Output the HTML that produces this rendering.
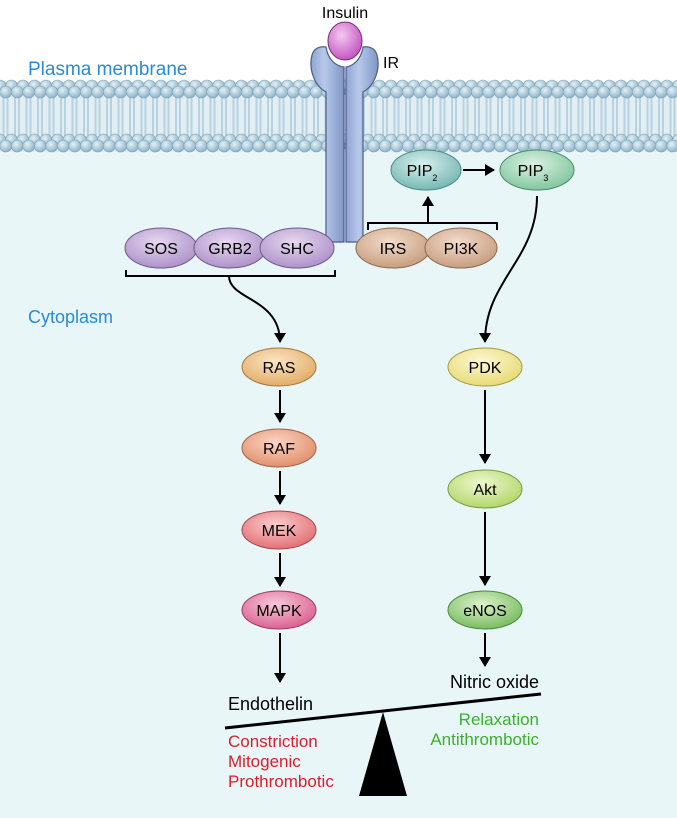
<!DOCTYPE html>
<html><head><meta charset="utf-8"><style>
html,body{margin:0;padding:0;background:#fff}
svg{display:block}
text{font-family:"Liberation Sans",Arial,sans-serif}
</style></head><body>
<svg width="677" height="818" viewBox="0 0 677 818" xmlns="http://www.w3.org/2000/svg">
<defs>
<radialGradient id="head" cx="0.4" cy="0.35" r="0.7"><stop offset="0" stop-color="#e4f1f7"/><stop offset="1" stop-color="#86aec4"/></radialGradient>
<pattern id="tails" x="0" y="0" width="11.5" height="10" patternUnits="userSpaceOnUse">
<rect x="2.5" y="0" width="2" height="10" fill="#b7d3e0"/><rect x="6.5" y="0" width="2" height="10" fill="#b7d3e0"/>
</pattern>
<radialGradient id="gPur" cx="0.45" cy="0.35" r="0.7"><stop offset="0" stop-color="#e6d8f0"/><stop offset="1" stop-color="#a98cc6"/></radialGradient>
<radialGradient id="gTan" cx="0.45" cy="0.35" r="0.7"><stop offset="0" stop-color="#f2dccb"/><stop offset="1" stop-color="#c4997a"/></radialGradient>
<radialGradient id="gTeal" cx="0.45" cy="0.35" r="0.7"><stop offset="0" stop-color="#d8f0ee"/><stop offset="1" stop-color="#6fb3ae"/></radialGradient>
<radialGradient id="gGrn" cx="0.45" cy="0.35" r="0.7"><stop offset="0" stop-color="#d9f2e2"/><stop offset="1" stop-color="#7cc39a"/></radialGradient>
<radialGradient id="gRas" cx="0.45" cy="0.35" r="0.7"><stop offset="0" stop-color="#fbe6c4"/><stop offset="1" stop-color="#e0a860"/></radialGradient>
<radialGradient id="gRaf" cx="0.45" cy="0.35" r="0.7"><stop offset="0" stop-color="#fbd5c4"/><stop offset="1" stop-color="#e08a66"/></radialGradient>
<radialGradient id="gMek" cx="0.45" cy="0.35" r="0.7"><stop offset="0" stop-color="#fbcccc"/><stop offset="1" stop-color="#e06a70"/></radialGradient>
<radialGradient id="gMapk" cx="0.45" cy="0.35" r="0.7"><stop offset="0" stop-color="#f8c8da"/><stop offset="1" stop-color="#d85a88"/></radialGradient>
<radialGradient id="gPdk" cx="0.45" cy="0.35" r="0.7"><stop offset="0" stop-color="#fdf8d0"/><stop offset="1" stop-color="#e6d870"/></radialGradient>
<radialGradient id="gAkt" cx="0.45" cy="0.35" r="0.7"><stop offset="0" stop-color="#eef8cc"/><stop offset="1" stop-color="#aed466"/></radialGradient>
<radialGradient id="gNos" cx="0.45" cy="0.35" r="0.7"><stop offset="0" stop-color="#dcf2cc"/><stop offset="1" stop-color="#72b858"/></radialGradient>
<radialGradient id="gIns" cx="0.4" cy="0.35" r="0.7"><stop offset="0" stop-color="#f4c8f0"/><stop offset="1" stop-color="#c050c0"/></radialGradient>
<linearGradient id="gBar" x1="0" x2="1"><stop offset="0" stop-color="#8ea4d0"/><stop offset="0.4" stop-color="#b8c8ea"/><stop offset="1" stop-color="#7f96c6"/></linearGradient>
<marker id="ah" markerWidth="10" markerHeight="12" refX="9" refY="6" orient="auto" markerUnits="userSpaceOnUse"><path d="M0,0 L10,6 L0,12 z" fill="#000"/></marker>
</defs>
<rect x="0" y="0" width="677" height="818" fill="#e8f6f8"/>
<rect x="0" y="0" width="677" height="82" fill="#fff"/>
<!-- membrane -->
<rect x="0" y="82" width="677" height="70" fill="#e2eef3"/>
<rect x="0" y="96" width="677" height="44" fill="url(#tails)"/>
<g id="hr">
</g>
<g fill="url(#head)" stroke="#7fa2b6" stroke-width="0.6">
<script type="text/ecmascript"></script>
</g>
<g id="heads"></g>
<text x="28" y="75" font-size="19" fill="#2a8ad8">Plasma membrane</text>
<text x="28" y="323" font-size="18" fill="#2a8ad8">Cytoplasm</text>
<!-- receptor -->
<g stroke="#4a5a8a" stroke-width="1.2" fill="url(#gBar)">
<path d="M326,242 L326,92 C312,84 309,66 312,55 C314,48 320,46 326,47 C328,60 336,66 344,67 L344,242 Z"/>
<path d="M363,242 L363,92 C377,84 380,66 377,55 C375,48 369,46 363,47 C361,60 353,66 346,67 L346,242 Z"/>
</g>
<ellipse cx="345" cy="41" rx="17" ry="19" fill="url(#gIns)" stroke="#7a2a7a" stroke-width="1"/>
<text x="345" y="18" font-size="16" text-anchor="middle">Insulin</text>
<text x="383" y="68" font-size="16">IR</text>
<!-- complexes -->
<g stroke="#6a5a8a" stroke-width="1" fill="url(#gPur)">
<ellipse cx="161" cy="248" rx="36" ry="20"/><ellipse cx="230" cy="248" rx="36" ry="20"/><ellipse cx="297" cy="248" rx="37" ry="20"/>
</g>
<g stroke="#8a6a52" stroke-width="1" fill="url(#gTan)">
<ellipse cx="393" cy="248" rx="37" ry="20"/><ellipse cx="461" cy="248" rx="36" ry="20"/>
</g>
<g font-size="16" text-anchor="middle">
<text x="161" y="254">SOS</text><text x="230" y="254">GRB2</text><text x="297" y="254">SHC</text>
<text x="393" y="254">IRS</text><text x="461" y="254">PI3K</text>
</g>
<ellipse cx="426" cy="170" rx="35" ry="20" fill="url(#gTeal)" stroke="#4a8a86" stroke-width="1"/>
<ellipse cx="537" cy="170" rx="37" ry="20" fill="url(#gGrn)" stroke="#4a8a6a" stroke-width="1"/>
<text x="422" y="176" font-size="16" text-anchor="middle">PIP<tspan font-size="9" dy="5">2</tspan></text>
<text x="533" y="176" font-size="16" text-anchor="middle">PIP<tspan font-size="9" dy="5">3</tspan></text>
<!-- connectors -->
<g stroke="#000" stroke-width="2" fill="none">
<path d="M126,270 L126,276 L335,276 L335,270"/>
<path d="M368,230 L368,223 L497,223 L497,230"/>
<path d="M428,223 L428,197" marker-end="url(#ah)"/>
<path d="M463,170 L494,170" marker-end="url(#ah)"/>
<path d="M229,276 C229,300 280,298 280,342" marker-end="url(#ah)"/>
<path d="M537,196 C537,260 485,280 485,342" marker-end="url(#ah)"/>
<path d="M280,390 L280,422" marker-end="url(#ah)"/>
<path d="M280,471 L280,504" marker-end="url(#ah)"/>
<path d="M280,553 L280,586" marker-end="url(#ah)"/>
<path d="M280,633 L280,682" marker-end="url(#ah)"/>
<path d="M485,390 L485,463" marker-end="url(#ah)"/>
<path d="M485,512 L485,585" marker-end="url(#ah)"/>
<path d="M485,633 L485,666" marker-end="url(#ah)"/>
</g>
<g stroke-width="1" font-size="16" text-anchor="middle">
<ellipse cx="279" cy="367" rx="37" ry="19" fill="url(#gRas)" stroke="#a07a40"/><text x="279" y="373">RAS</text>
<ellipse cx="279" cy="448" rx="37" ry="19" fill="url(#gRaf)" stroke="#a0604a"/><text x="279" y="454">RAF</text>
<ellipse cx="279" cy="530" rx="37" ry="19" fill="url(#gMek)" stroke="#a04a50"/><text x="279" y="536">MEK</text>
<ellipse cx="279" cy="610" rx="37" ry="19" fill="url(#gMapk)" stroke="#a03a68"/><text x="279" y="616">MAPK</text>
<ellipse cx="485" cy="367" rx="37" ry="19" fill="url(#gPdk)" stroke="#a09a40"/><text x="485" y="373">PDK</text>
<ellipse cx="485" cy="489" rx="37" ry="19" fill="url(#gAkt)" stroke="#7a9a40"/><text x="485" y="495">Akt</text>
<ellipse cx="485" cy="610" rx="37" ry="19" fill="url(#gNos)" stroke="#4a8a3a"/><text x="485" y="616">eNOS</text>
</g>
<!-- balance -->
<text x="228" y="710" font-size="18">Endothelin</text>
<text x="539" y="688" font-size="18" text-anchor="end">Nitric oxide</text>
<line x1="225" y1="728" x2="541" y2="694" stroke="#000" stroke-width="3"/>
<path d="M383,712 L407,796 L359,796 Z" fill="#000"/>
<g font-size="17" fill="#d8202a">
<text x="228" y="747">Constriction</text><text x="228" y="767">Mitogenic</text><text x="228" y="787">Prothrombotic</text>
</g>
<g font-size="17" fill="#3cb02c" text-anchor="end">
<text x="539" y="725">Relaxation</text><text x="539" y="745">Antithrombotic</text>
</g>
</svg>
<script>
(function(){var s=document.querySelector('svg'),ns='http://www.w3.org/2000/svg';
var g=document.getElementById('heads');
function row(y,off,fill){for(var x=off;x<690;x+=11.5){var c=document.createElementNS(ns,'circle');c.setAttribute('cx',x);c.setAttribute('cy',y);c.setAttribute('r',6);c.setAttribute('fill','url(#head)');c.setAttribute('stroke','#7fa2b6');c.setAttribute('stroke-width','0.6');g.appendChild(c);}}
row(86,0);row(92,5.75);row(140,0);row(146,5.75);})();
</script>
</body></html>
